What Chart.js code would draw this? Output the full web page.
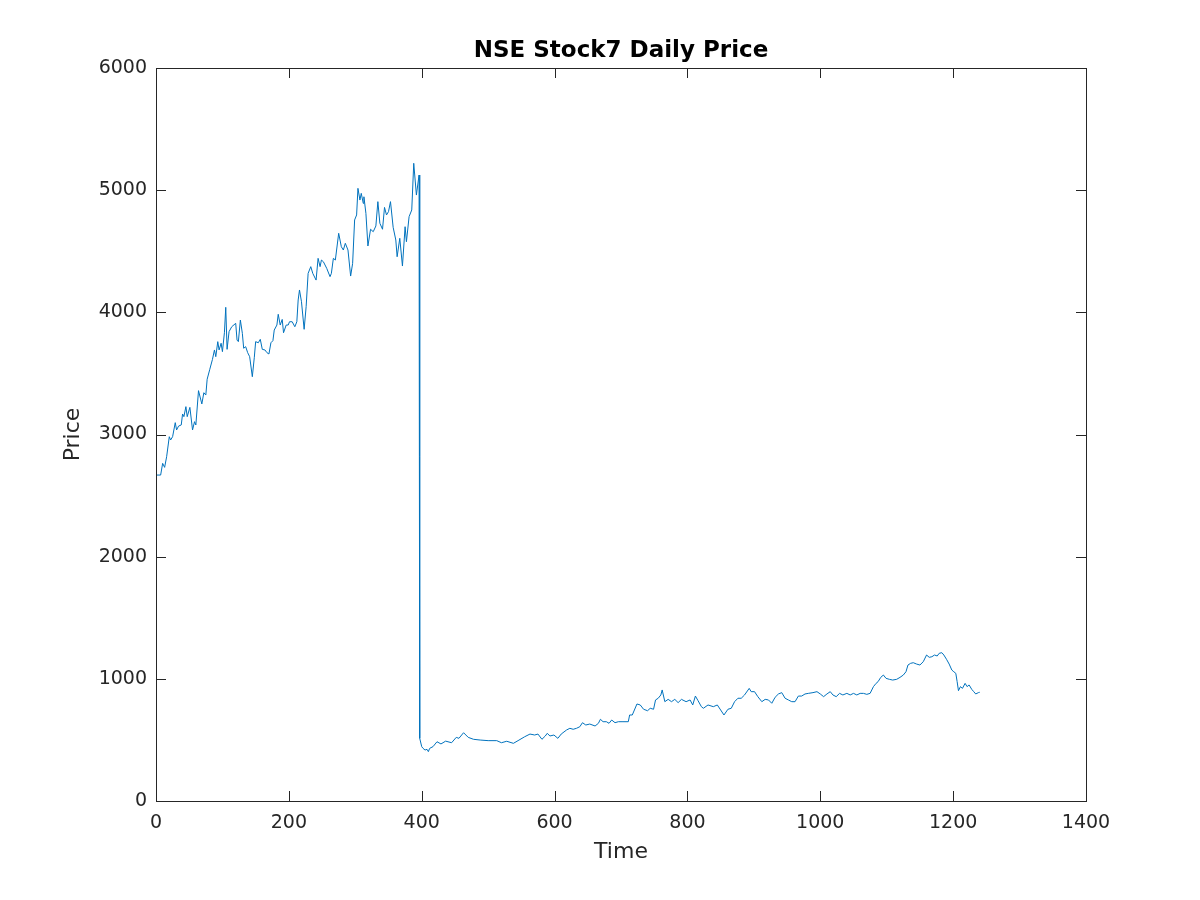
<!DOCTYPE html>
<html lang="en">
<head>
  <meta charset="UTF-8">
  <title>NSE Stock7 Daily Price</title>
  <style>
    body {
      margin: 0;
      background: #ffffff;
    }
    .chart-box {
      width: 1200px;
      height: 900px;
    }
  </style>
</head>
<body>
  <div class="chart-box">
    <canvas id="priceChart" width="1200" height="900"></canvas>
  </div>
  <script src="https://cdn.jsdelivr.net/npm/chart.js"></script>
  <script>
    // values
    const timeDays = [
      1, 7, 10, 13, 16, 20, 22, 25, 29, 31, 34, 38, 40, 42, 45, 47, 51, 55, 58, 60,
      64, 69, 72, 75, 77, 81, 85, 88, 90, 93, 95, 98, 100, 103, 105, 107, 110, 114, 120, 122,
      124, 127, 130, 132, 135, 138, 141, 145, 148, 150, 154, 157, 160, 164, 167, 170, 173, 176, 178, 182,
      184, 187, 190, 192, 196, 199, 201, 205, 209, 212, 214, 216, 219, 223, 226, 229, 233, 236, 241, 244,
      247, 249, 252, 257, 262, 264, 267, 270, 275, 279, 282, 285, 289, 293, 296, 299, 302, 304, 307, 309,
      312, 313, 316, 319, 323, 327, 331, 334, 337, 341, 344, 347, 350, 353, 357, 361, 363, 367, 371, 375,
      377, 381, 385, 388, 392, 396, 397, 400, 402, 405, 408, 410, 412, 417, 423, 429, 436, 445, 452, 456,
      463, 470, 478, 488, 500, 513, 520, 528, 538, 545, 555, 563, 570, 575, 581, 586, 589, 593, 599, 605,
      610, 618, 623, 628, 633, 638, 642, 647, 653, 661, 666, 669, 673, 678, 682, 686, 691, 696, 703, 711,
      713, 717, 724, 729, 734, 740, 744, 749, 752, 756, 760, 762, 766, 771, 776, 781, 786, 791, 798, 804,
      808, 812, 816, 821, 824, 831, 839, 845, 850, 855, 861, 866, 871, 876, 881, 886, 893, 896, 901, 906,
      912, 917, 922, 927, 932, 937, 942, 947, 952, 957, 962, 967, 972, 977, 982, 989, 995, 1000, 1005, 1010,
      1015, 1019, 1024, 1029, 1034, 1040, 1045, 1050, 1055, 1060, 1065, 1070, 1075, 1080, 1084, 1087, 1091, 1095, 1099, 1104,
      1109, 1115, 1120, 1125, 1129, 1132, 1136, 1140, 1145, 1150, 1155, 1160, 1164, 1168, 1172, 1176, 1179, 1183, 1186, 1190,
      1194, 1198, 1201, 1204, 1206, 1208, 1211, 1214, 1218, 1221, 1224, 1228, 1231, 1234, 1238, 1240
    ];

    const closePrice = [
      2668, 2668, 2764, 2731, 2818, 2982, 2955, 2982, 3097, 3037, 3069, 3078, 3168, 3146, 3228, 3146, 3222, 3037, 3105, 3078,
      3359, 3250, 3342, 3323, 3452, 3534, 3615, 3692, 3637, 3760, 3692, 3747, 3678, 3833, 4041, 3697, 3842, 3882, 3910, 3773,
      3760, 3937, 3828, 3706, 3719, 3670, 3637, 3473, 3632, 3760, 3751, 3779, 3697, 3692, 3670, 3659, 3751, 3768, 3855, 3896,
      3984, 3896, 3942, 3833, 3896, 3896, 3923, 3923, 3882, 3923, 4101, 4183, 4087, 3861, 4046, 4319, 4374, 4319, 4264, 4442,
      4374, 4428, 4414, 4360, 4292, 4319, 4442, 4428, 4647, 4537, 4510, 4565, 4510, 4297, 4401, 4756, 4797, 5015, 4919, 4974,
      4892, 4946, 4810, 4543, 4680, 4660, 4707, 4906, 4729, 4680, 4859, 4797, 4824, 4906, 4696, 4592, 4455, 4606, 4379, 4701,
      4578, 4783, 4838, 5220, 4960, 5124, 513, 445, 431, 417, 423, 404, 431, 445, 485, 467, 490, 477, 521, 513,
      559, 521, 505, 499, 494, 494, 477, 489, 472, 494, 526, 548, 540, 548, 505, 532, 554, 532, 540, 513,
      548, 581, 595, 587, 595, 608, 641, 622, 630, 614, 636, 669, 649, 649, 636, 663, 641, 649, 649, 649,
      704, 704, 794, 786, 751, 739, 759, 751, 827, 841, 868, 909, 813, 832, 813, 832, 805, 832, 813, 827,
      786, 859, 821, 772, 759, 786, 772, 786, 745, 704, 751, 759, 813, 841, 841, 868, 922, 895, 895, 854,
      813, 832, 827, 800, 849, 876, 887, 841, 827, 813, 813, 859, 859, 876, 881, 887, 895, 876, 854, 876,
      895, 868, 854, 881, 868, 881, 868, 881, 868, 881, 881, 873, 881, 936, 963, 977, 1012, 1031, 1004, 996,
      990, 996, 1012, 1031, 1058, 1113, 1127, 1132, 1121, 1113, 1140, 1195, 1176, 1181, 1195, 1187, 1209, 1214, 1195, 1160,
      1121, 1072, 1058, 1045, 977, 903, 936, 922, 963, 936, 950, 914, 895, 876, 887, 890
    ];

    const xTicks = [0, 200, 400, 600, 800, 1000, 1200, 1400];
    const yTicks = [0, 1000, 2000, 3000, 4000, 5000, 6000];

    const axisColor = '#262626';
    const fontFamily = "'DejaVu Sans', sans-serif";

    // matlab style box with ticks pointing inwards on all four sides
    const boxPlugin = {
      id: 'matlabBox',
      afterDatasetsDraw(chart) {
        const { ctx, chartArea: a, scales } = chart;
        const len = 10;
        ctx.save();
        ctx.strokeStyle = axisColor;
        ctx.lineWidth = 1;
        ctx.strokeRect(a.left + 0.5, a.top + 0.5, a.right - a.left, a.bottom - a.top);
        ctx.beginPath();
        xTicks.forEach(v => {
          const px = Math.round(scales.x.getPixelForValue(v)) + 0.5;
          ctx.moveTo(px, a.bottom); ctx.lineTo(px, a.bottom - len);
          ctx.moveTo(px, a.top); ctx.lineTo(px, a.top + len);
        });
        yTicks.forEach(v => {
          const py = Math.round(scales.y.getPixelForValue(v)) + 0.5;
          ctx.moveTo(a.left, py); ctx.lineTo(a.left + len, py);
          ctx.moveTo(a.right, py); ctx.lineTo(a.right - len, py);
        });
        ctx.stroke();
        ctx.restore();
      }
    };

    new Chart(document.getElementById('priceChart'), {
      type: 'line',
      data: {
        datasets: [{
          label: 'Price',
          data: timeDays.map((t, i) => ({ x: t, y: closePrice[i] })),
          borderColor: '#0072BD',
          borderWidth: 1,
          pointRadius: 0,
          tension: 0,
          fill: false
        }]
      },
      options: {
        responsive: false,
        animation: false,
        layout: {
          padding: { left: 50, right: 114, top: 0, bottom: 0 }
        },
        plugins: {
          legend: { display: false },
          tooltip: { enabled: false },
          title: {
            display: true,
            text: 'NSE Stock7 Daily Price',
            fullSize: false,
            color: '#000000',
            font: { family: fontFamily, size: 23, weight: 'bold' },
            padding: { top: 37, bottom: 3.4 }
          }
        },
        scales: {
          x: {
            type: 'linear',
            min: 0,
            max: 1400,
            afterFit: s => { s.height = 99; },
            grid: { display: false, drawTicks: false },
            border: { display: false },
            ticks: {
              stepSize: 200,
              padding: 11,
              color: axisColor,
              font: { family: fontFamily, size: 19 },
              callback: v => String(v)
            },
            title: {
              display: true,
              text: 'Time',
              color: axisColor,
              font: { family: fontFamily, size: 22 },
              padding: { top: 0, bottom: 35 }
            }
          },
          y: {
            min: 0,
            max: 6000,
            afterFit: s => { s.width = 106; },
            grid: { display: false, drawTicks: false },
            border: { display: false },
            ticks: {
              stepSize: 1000,
              padding: 9,
              color: axisColor,
              font: { family: fontFamily, size: 19 },
              callback: v => String(v)
            },
            title: {
              display: true,
              text: 'Price',
              color: axisColor,
              font: { family: fontFamily, size: 22 },
              padding: { top: 10, bottom: 0 }
            }
          }
        }
      },
      plugins: [boxPlugin]
    });
  </script>
</body>
</html>
